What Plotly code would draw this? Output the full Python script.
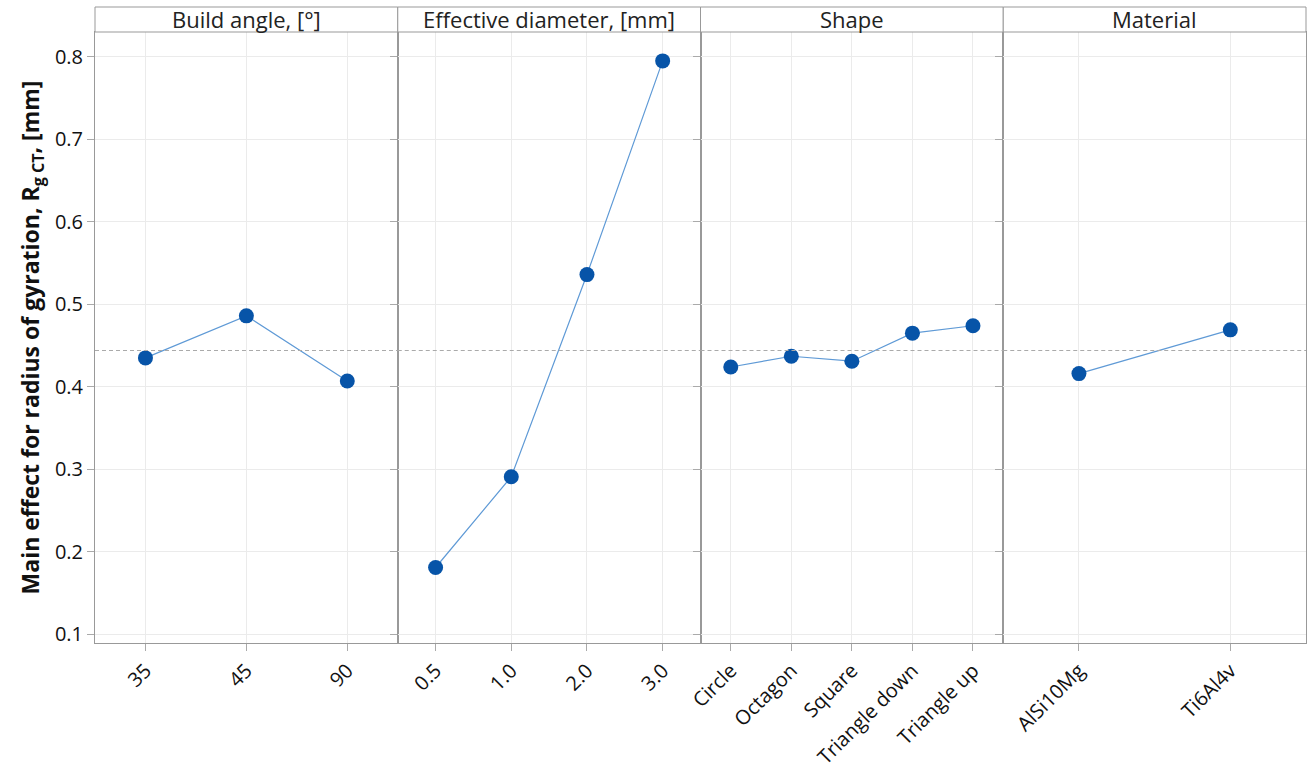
import plotly.graph_objects as go
from plotly.subplots import make_subplots

factors = ["Build angle, [°]", "Effective diameter, [mm]", "Shape", "Material"]
build_angle_levels = ["35", "45", "90"]
build_angle_vals = [0.435, 0.486, 0.407]
diameter_levels = ["0.5", "1.0", "2.0", "3.0"]
diameter_vals = [0.181, 0.291, 0.536, 0.795]
shape_levels = ["Circle", "Octagon", "Square", "Triangle down", "Triangle up"]
shape_vals = [0.424, 0.437, 0.431, 0.465, 0.474]
material_levels = ["AlSi10Mg", "Ti6Al4v"]
material_vals = [0.416, 0.469]
grand_mean = 0.444

levels = [build_angle_levels, diameter_levels, shape_levels, material_levels]
values = [build_angle_vals, diameter_vals, shape_vals, material_vals]

FONT = "'Open Sans', 'Noto Sans', sans-serif"
fig = make_subplots(rows=1, cols=4, shared_yaxes=True, horizontal_spacing=0)

for i, (lv, vals) in enumerate(zip(levels, values)):
    fig.add_trace(go.Scatter(
        x=lv, y=vals, mode="lines+markers",
        line=dict(color="#5f9ad6", width=1.2),
        marker=dict(color="#0754a8", size=15),
        showlegend=False, cliponaxis=False,
    ), row=1, col=i + 1)
    fig.update_xaxes(
        type="category", range=[-0.5, len(lv) - 0.5],
        tickangle=-45, ticks="outside", ticklen=7, tickcolor="#aaa",
        showgrid=True, gridcolor="#ebebeb", gridwidth=1,
        showline=True, linecolor="#999", linewidth=1, mirror=True,
        tickfont=dict(family=FONT, size=20, color="#111"),
        zeroline=False, automargin=False,
        row=1, col=i + 1)

fig.update_yaxes(
    range=[0.0895, 0.830], dtick=0.1, tick0=0.1,
    tickformat=".1f", ticks="outside", ticklen=7, tickcolor="#aaa",
    showgrid=True, gridcolor="#ebebeb", zeroline=False,
    showline=True, linecolor="#999", linewidth=1, mirror=True,
    tickfont=dict(family=FONT, size=20, color="#111"),
    automargin=False,
)
fig.update_yaxes(
    title=dict(text="<b>Main effect for radius of gyration, R<sub>g CT</sub>, [mm]</b>",
               font=dict(family=FONT, size=23, color="#111"), standoff=8),
    row=1, col=1)

fig.add_hline(y=grand_mean, line_dash="4px,3px", line_color="#aaaaaa", line_width=1,
              row="all", col="all")

# Header strips
ph = 774 - 32 - 131
hh = 25 / ph
for i, name in enumerate(factors):
    x0 = i / 4
    x1 = (i + 1) / 4
    fig.add_shape(type="rect", xref="paper", yref="paper", x0=x0, x1=x1,
                  y0=1, y1=1 + hh, line=dict(color="#999", width=1),
                  fillcolor="white")
    fig.add_annotation(text=name, xref="paper", yref="paper", x=(x0 + x1) / 2,
                       y=1 + hh / 2, showarrow=False, xanchor="center",
                       yanchor="middle",
                       font=dict(family=FONT, size=22, color="#222"))

fig.update_layout(
    width=1314, height=774,
    margin=dict(l=95, r=8, t=32, b=131, autoexpand=False),
    plot_bgcolor="white", paper_bgcolor="white",
)

fig.write_html("out.html")
